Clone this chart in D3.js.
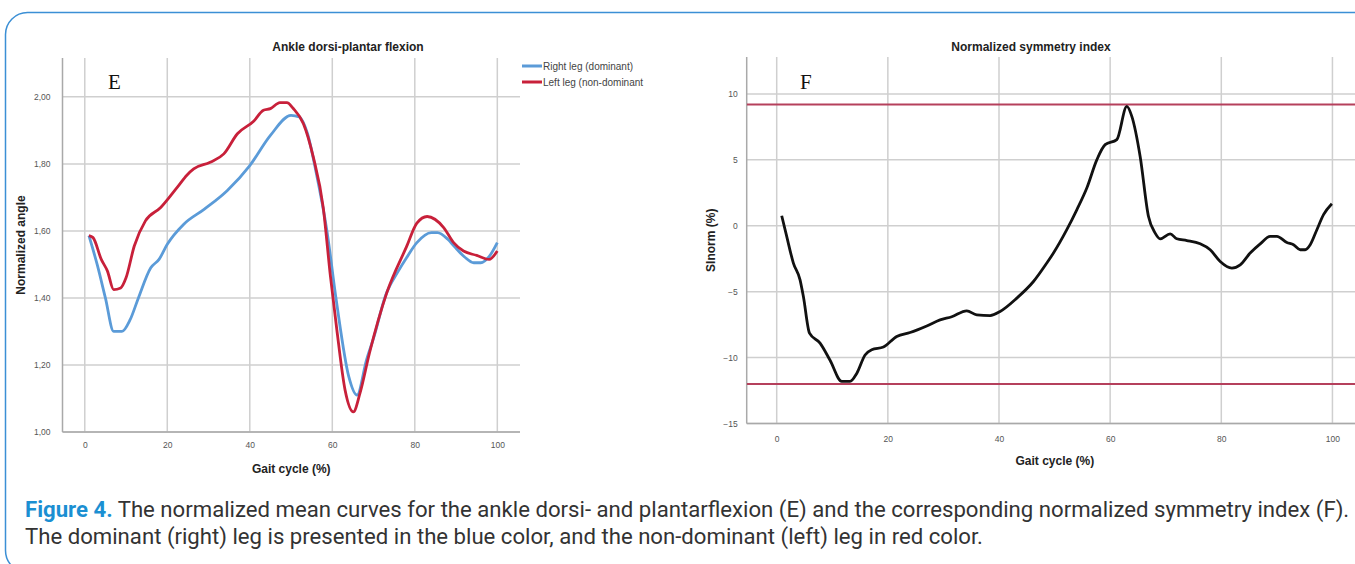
<!DOCTYPE html>
<html>
<head>
<meta charset="utf-8">
<script src="https://cdn.jsdelivr.net/npm/d3@7"></script>
<style>
  body { margin: 0; background: #fff; }
  svg { display: block; }
  text { font-family: "Liberation Sans", Arial, sans-serif; }
  text.caption { font-family: Roboto, "Noto Sans", sans-serif; }
</style>
</head>
<body>
<svg id="fig" width="1355" height="564"></svg>
<script>
// panel E: right leg (dominant), blue
var rightX = [1, 3, 5, 7, 9, 11, 13, 16, 18, 20, 24, 29, 34.5, 40, 45, 50, 52, 54, 56, 58.7, 61, 64, 66, 68.3, 70, 73, 76, 78, 80.5, 84, 85.5, 88, 89.5, 92, 94.3, 96, 98, 100];
var rightY = [1.586, 1.50, 1.40, 1.30, 1.30, 1.335, 1.40, 1.49, 1.515, 1.56, 1.62, 1.665, 1.72, 1.795, 1.885, 1.945, 1.94, 1.89, 1.78, 1.60, 1.39, 1.165, 1.11, 1.215, 1.28, 1.41, 1.48, 1.52, 1.565, 1.595, 1.595, 1.575, 1.555, 1.523, 1.505, 1.505, 1.523, 1.565];
// panel E: left leg (non-dominant), red
var leftX = [1, 2, 4, 5.5, 7, 8.7, 10, 12, 14.7, 18.4, 22.4, 24.8, 26.4, 30.4, 33.7, 37, 41, 43.3, 45, 47.3, 49, 50.5, 53, 55.4, 57.8, 59.5, 61.1, 63.1, 65.1, 66.7, 69, 73.2, 78, 80.5, 83, 87, 89.4, 91.8, 95, 98, 100];
var leftY = [1.586, 1.58, 1.515, 1.48, 1.425, 1.43, 1.46, 1.555, 1.63, 1.67, 1.73, 1.767, 1.785, 1.805, 1.83, 1.89, 1.928, 1.96, 1.965, 1.983, 1.983, 1.966, 1.92, 1.82, 1.67, 1.47, 1.305, 1.125, 1.06, 1.115, 1.235, 1.415, 1.553, 1.623, 1.643, 1.61, 1.565, 1.54, 1.527, 1.515, 1.54];
// panel F: normalized symmetry index
var siX = [0.9, 1.8, 3, 4.2, 4.8, 5.9, 7.8, 9.6, 11.7, 13.2, 14.4, 15.9, 17.1, 19.2, 21.6, 24, 27, 29.4, 31.5, 34.2, 36, 38.4, 40.2, 43.2, 46.2, 48.6, 49.8, 52.2, 54, 55.8, 57.6, 59.1, 61.2, 63, 63.9, 65.4, 66.9, 68.1, 69, 70.8, 72, 73.8, 76.2, 78, 79.8, 81.9, 83.4, 85.2, 87, 88.8, 90, 91.8, 93, 94.2, 95.1, 96, 97.2, 98.4, 99.9];
var siY = [0.76, -0.81, -2.83, -4.1, -5.37, -8.15, -8.9, -10.2, -11.8, -11.8, -11.2, -9.8, -9.4, -9.2, -8.4, -8.1, -7.6, -7.14, -6.9, -6.45, -6.76, -6.81, -6.5, -5.49, -4.23, -2.83, -2.07, -0.3, 1.21, 2.86, 5.0, 6.15, 6.53, 9.06, 8.3, 5.26, 0.7, -0.56, -0.99, -0.61, -0.99, -1.12, -1.37, -1.82, -2.71, -3.21, -2.96, -2.07, -1.37, -0.81, -0.81, -1.27, -1.44, -1.82, -1.82, -1.44, -0.3, 0.84, 1.67];
var siLimits = [9.2, -12.0];

var xTicks = [0, 20, 40, 60, 80, 100];
var angleTicks = [1.0, 1.2, 1.4, 1.6, 1.8, 2.0];
var siTicks = [-15, -10, -5, 0, 5, 10];
var legendLabels = ["Right leg (dominant)", "Left leg (non-dominant"];

var svg = d3.select("#fig");
var gridColor = "#cfcfcf";
var axisColor = "#a9a9a9";
var commaFmt = d3.formatLocale({ decimal: ",", thousands: ".", grouping: [3], currency: ["", ""] }).format(".2f");

// outer frame
svg.append("rect")
  .attr("x", 5.5).attr("y", 12.5)
  .attr("width", 1400).attr("height", 560)
  .attr("rx", 22)
  .attr("fill", "none")
  .attr("stroke", "#3b8fd5")
  .attr("stroke-width", 1.5);

function panel(opt) {
  var x = d3.scaleLinear().domain([-5.4, 105.5]).range(opt.xr);
  var y = d3.scaleLinear().domain(opt.yd).range(opt.yr);
  var g = svg.append("g");

  // grid
  g.append("g").selectAll("line").data(xTicks).join("line")
    .attr("x1", (d) => x(d)).attr("x2", (d) => x(d))
    .attr("y1", opt.yr[1]).attr("y2", opt.yr[0])
    .attr("stroke", gridColor).attr("stroke-width", 1.5);
  g.append("g").selectAll("line").data(opt.yTicks).join("line")
    .attr("x1", opt.xr[0]).attr("x2", opt.xr[1])
    .attr("y1", (d) => y(d)).attr("y2", (d) => y(d))
    .attr("stroke", gridColor).attr("stroke-width", 1.5);

  // axis lines
  g.append("line")
    .attr("x1", opt.xr[0]).attr("x2", opt.xr[0])
    .attr("y1", opt.yr[1]).attr("y2", opt.yr[0])
    .attr("stroke", axisColor).attr("stroke-width", 1.5);
  g.append("line")
    .attr("x1", opt.xr[0]).attr("x2", opt.xr[1])
    .attr("y1", opt.yr[0]).attr("y2", opt.yr[0])
    .attr("stroke", axisColor).attr("stroke-width", 1.5);

  // tick labels
  var xa = g.append("g")
    .attr("transform", "translate(0," + opt.yr[0] + ")")
    .call(d3.axisBottom(x).tickValues(xTicks).tickSize(0).tickPadding(opt.xPad));
  var ya = g.append("g")
    .attr("transform", "translate(" + opt.xr[0] + ",0)")
    .call(d3.axisLeft(y).tickValues(opt.yTicks).tickSize(0).tickPadding(opt.yPad).tickFormat(opt.yFmt));
  [xa, ya].forEach(function (a) {
    a.select(".domain").remove();
    a.selectAll("text")
      .attr("fill", "#555")
      .style("font-size", "8.5px")
      .style("font-family", "'Liberation Sans', Arial, sans-serif");
  });

  // titles
  g.append("text")
    .attr("x", opt.titleX).attr("y", 51)
    .attr("text-anchor", "middle")
    .attr("font-weight", "bold").attr("font-size", 12).attr("fill", "#222")
    .text(opt.title);
  g.append("text")
    .attr("x", (opt.xr[0] + opt.xr[1]) / 2).attr("y", opt.xLabelY)
    .attr("text-anchor", "middle")
    .attr("font-weight", "bold").attr("font-size", 12).attr("fill", "#222")
    .text("Gait cycle (%)");
  g.append("text")
    .attr("transform", "translate(" + opt.yLabelX + "," + (opt.yr[0] + opt.yr[1]) / 2 + ") rotate(-90)")
    .attr("text-anchor", "middle")
    .attr("dominant-baseline", "middle")
    .attr("font-weight", "bold").attr("font-size", 12).attr("fill", "#222")
    .text(opt.yLabel);
  g.append("text")
    .attr("x", opt.letterX).attr("y", 89)
    .style("font-family", "'Liberation Serif', 'Times New Roman', serif")
    .attr("font-size", 21).attr("fill", "#111")
    .text(opt.letter);

  var clipId = "clip" + opt.letter;
  svg.append("clipPath").attr("id", clipId).append("rect")
    .attr("x", opt.xr[0]).attr("y", opt.yr[1])
    .attr("width", opt.xr[1] - opt.xr[0]).attr("height", opt.yr[0] - opt.yr[1]);
  var plot = g.append("g").attr("clip-path", "url(#" + clipId + ")");

  return { x: x, y: y, g: g, plot: plot };
}

// ---- panel E ----
var E = panel({
  xr: [62.5, 520], yr: [432, 58], yd: [1.0, 2.116],
  yTicks: angleTicks, yFmt: commaFmt, xPad: 10, yPad: 12,
  title: "Ankle dorsi-plantar flexion", titleX: 348,
  xLabelY: 473, yLabel: "Normalized angle", yLabelX: 22,
  letter: "E", letterX: 108
});

var lineE = d3.line()
  .x((d) => E.x(d[0]))
  .y((d) => E.y(d[1]))
  .curve(d3.curveMonotoneX);

E.plot.append("path")
  .datum(d3.zip(rightX, rightY))
  .attr("d", lineE)
  .attr("fill", "none")
  .attr("stroke", "#5b9bd8")
  .attr("stroke-width", 2.8);
E.plot.append("path")
  .datum(d3.zip(leftX, leftY))
  .attr("d", lineE)
  .attr("fill", "none")
  .attr("stroke", "#c8203a")
  .attr("stroke-width", 2.8);

// legend
var legColors = ["#5b9bd8", "#c8203a"];
var leg = svg.append("g").selectAll("g").data(legendLabels).join("g")
  .attr("transform", (d, i) => "translate(522," + (66 + i * 16) + ")");
leg.append("line")
  .attr("x1", 0).attr("x2", 20)
  .attr("stroke", (d, i) => legColors[i])
  .attr("stroke-width", 3);
leg.append("text")
  .attr("x", 21).attr("y", 3.5)
  .attr("font-size", 10).attr("fill", "#444")
  .text((d) => d);

// ---- panel F ----
var F = panel({
  xr: [746.7, 1363], yr: [423.5, 57], yd: [-15, 12.8],
  yTicks: siTicks, yFmt: d3.format("d"), xPad: 12, yPad: 9,
  title: "Normalized symmetry index", titleX: 1031,
  xLabelY: 465, yLabel: "SInorm (%)", yLabelX: 712,
  letter: "F", letterX: 800
});

F.plot.append("g").selectAll("line").data(siLimits).join("line")
  .attr("x1", 746.7).attr("x2", 1363)
  .attr("y1", (d) => F.y(d)).attr("y2", (d) => F.y(d))
  .attr("stroke", "#b5405c")
  .attr("stroke-width", 2);

var lineF = d3.line()
  .x((d) => F.x(d[0]))
  .y((d) => F.y(d[1]))
  .curve(d3.curveMonotoneX);

F.plot.append("path")
  .datum(d3.zip(siX, siY))
  .attr("d", lineF)
  .attr("fill", "none")
  .attr("stroke", "#111")
  .attr("stroke-width", 2.8);

// ---- caption ----
var cap = svg.append("g");
var line1 = cap.append("text").attr("class", "caption").attr("x", 25).attr("y", 517).attr("font-size", 19).attr("fill", "#333");
line1.append("tspan").attr("fill", "#1b8fd2").attr("font-weight", "bold").text("Figure 4.");
line1.append("tspan").text(" The normalized mean curves for the ankle dorsi- and plantarflexion (E) and the corresponding normalized symmetry index (F).");
var line2 = cap.append("text").attr("class", "caption").attr("x", 25).attr("y", 544).attr("font-size", 19).attr("fill", "#333")
  .text("The dominant (right) leg is presented in the blue color, and the non-dominant (left) leg in red color.");

// fit caption width to the figure
var w1 = line1.node().getComputedTextLength();
var fs = 19 * 1325 / w1;
line1.attr("font-size", fs);
line2.attr("font-size", fs);
</script>
</body>
</html>
